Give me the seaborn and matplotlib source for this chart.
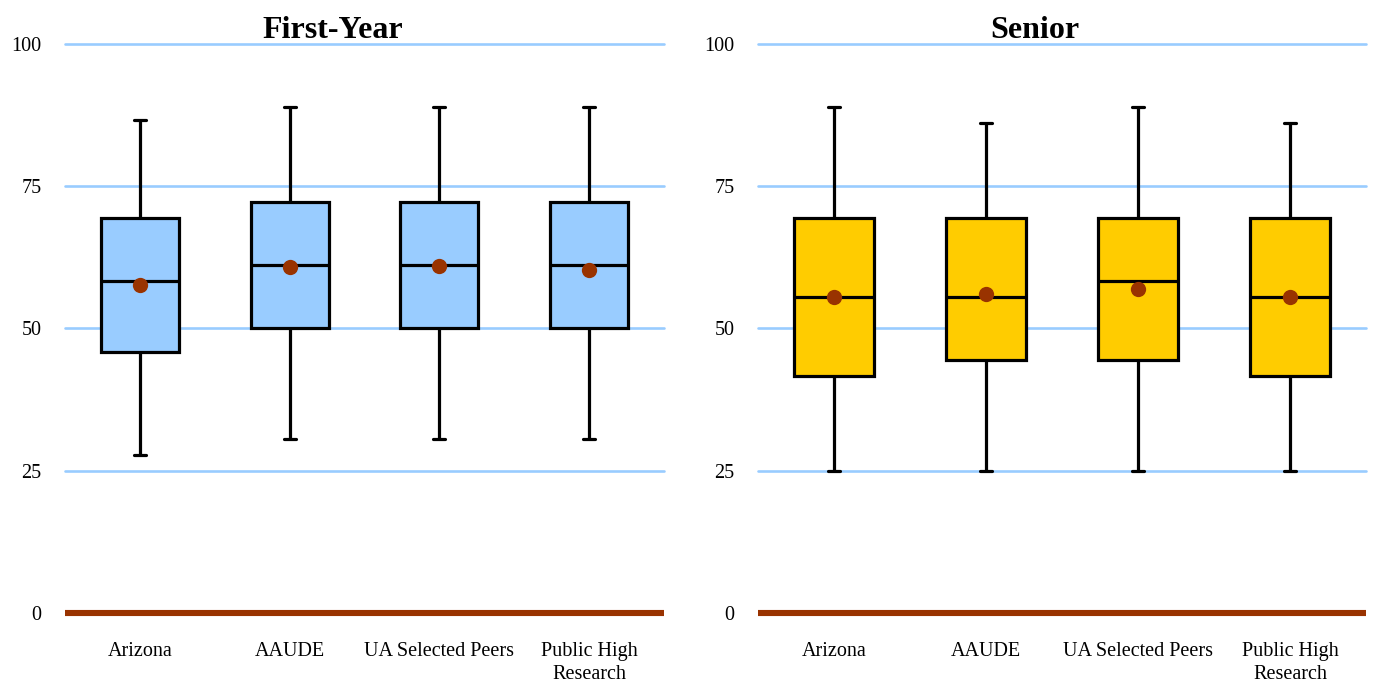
import pandas as pd
import matplotlib.pyplot as plt
import seaborn as sns

# Box statistics (whisker low, Q1, median, Q3, whisker high) and means
groups = ['Arizona', 'AAUDE', 'UA Selected Peers', 'Public High\nResearch']

fy_low = [27.8, 30.6, 30.6, 30.6]
fy_q1 = [45.8, 50.0, 50.0, 50.0]
fy_med = [58.3, 61.1, 61.1, 61.1]
fy_q3 = [69.4, 72.2, 72.2, 72.2]
fy_high = [86.7, 88.9, 88.9, 88.9]
fy_mean = [57.7, 60.8, 61.0, 60.3]

sr_low = [25.0, 25.0, 25.0, 25.0]
sr_q1 = [41.7, 44.4, 44.4, 41.7]
sr_med = [55.6, 55.6, 58.3, 55.6]
sr_q3 = [69.4, 69.4, 69.4, 69.4]
sr_high = [88.9, 86.1, 88.9, 86.1]
sr_mean = [55.6, 56.0, 56.9, 55.6]


def five_num_frame(low, q1, med, q3, high):
    rows = []
    for i, g in enumerate(groups):
        for v in (low[i], q1[i], med[i], q3[i], high[i]):
            rows.append({'group': g, 'value': v})
    return pd.DataFrame(rows)


fy_df = five_num_frame(fy_low, fy_q1, fy_med, fy_q3, fy_high)
sr_df = five_num_frame(sr_low, sr_q1, sr_med, sr_q3, sr_high)
fy_mean_df = pd.DataFrame({'group': groups, 'value': fy_mean})
sr_mean_df = pd.DataFrame({'group': groups, 'value': sr_mean})

sns.set_style('white')
plt.rcParams['font.family'] = ['Liberation Serif', 'DejaVu Serif']
plt.rcParams['text.color'] = 'black'
plt.rcParams['xtick.color'] = 'black'
plt.rcParams['ytick.color'] = 'black'

fig = plt.figure(figsize=(13.73, 6.81), dpi=100)
ax1 = fig.add_axes([65 / 1373, 1 - 613 / 681, 599 / 1373, (613 - 41) / 681])
ax2 = fig.add_axes([758 / 1373, 1 - 613 / 681, 608 / 1373, (613 - 41) / 681])

panels = [
    (ax1, fy_df, fy_mean_df, '#99CCFF', 'First-Year', 0.447),
    (ax2, sr_df, sr_mean_df, '#FFCC00', 'Senior', 0.456),
]

for ax, df, mdf, col, title, tx in panels:
    for y in [25, 50, 75, 100]:
        ax.axhline(y, color='#99CCFF', lw=1.9, zorder=0, clip_on=False)
    sns.boxplot(data=df, x='group', y='value', ax=ax, whis=(0, 100),
                color=col, saturation=1, width=0.52, linecolor='black',
                linewidth=2.3, capwidths=0.08, zorder=2)
    sns.stripplot(data=mdf, x='group', y='value', ax=ax, jitter=False,
                  size=11, color='#993300', zorder=4)
    ax.axhline(0, color='#993300', lw=4.4, zorder=3, clip_on=False,
               solid_capstyle='butt')
    ax.set_ylim(0, 100.5)
    ax.set_xlim(-0.5, 3.5)
    ax.set_yticks([0, 25, 50, 75, 100])
    ax.set_xlabel('')
    ax.set_ylabel('')
    ax.set_title(title, fontsize=23, fontweight='bold', pad=2, x=tx,
                 color='black')
    ax.tick_params(axis='y', length=0, pad=17, labelsize=14.5)
    ax.tick_params(axis='x', length=0, pad=21, labelsize=14.5)
    for s in ax.spines.values():
        s.set_visible(False)
    for lab in ax.get_xticklabels():
        lab.set_linespacing(1.25)

fig.savefig('out.png', dpi=100)
